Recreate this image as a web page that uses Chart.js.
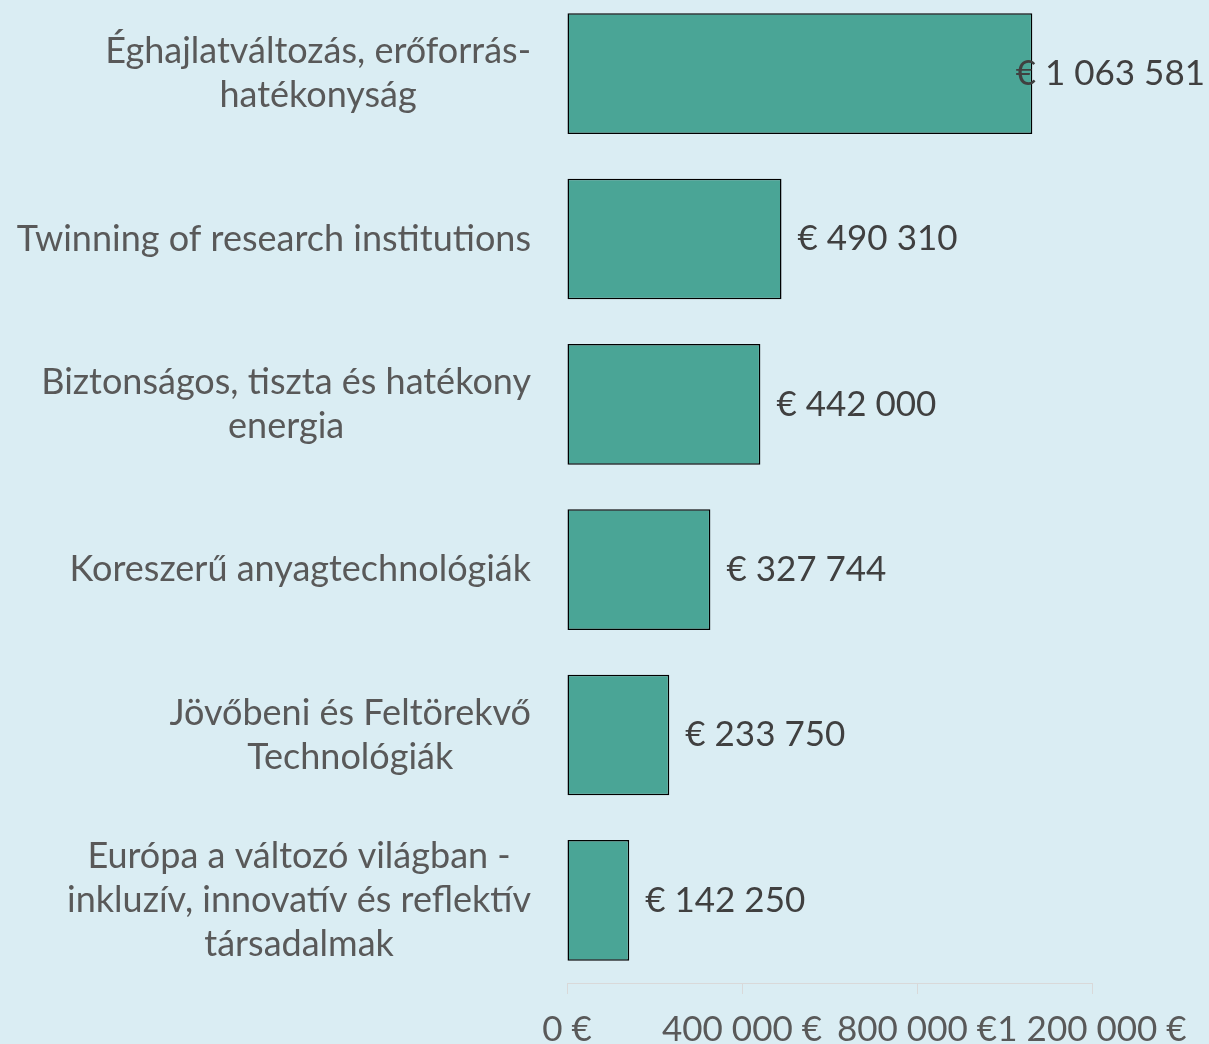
<!DOCTYPE html>
<html lang="hu">
<head>
    <meta charset="UTF-8" />
    <title>Támogatás témák szerint</title>
    <script src="https://cdn.jsdelivr.net/npm/chart.js"></script>
    <style>
        body {
            margin: 0;
            padding: 0;
            background-color: #daedf3;
            overflow: hidden;
        }

        .chart-container {
            position: absolute;
            left: 0;
            top: -9px;
            width: 1209px;
            height: 1053px;
        }
    </style>
</head>
<body>
    <div class="chart-container">
        <canvas id="fundChart"></canvas>
    </div>

    <script>
        // categories (each entry = lines of the label)
        const categories = [
            ['Éghajlatváltozás, erőforrás-', 'hatékonyság'],
            ['Twinning of research institutions'],
            ['Biztonságos, tiszta és hatékony', 'energia'],
            ['Koreszerű anyagtechnológiák'],
            ['Jövőbeni és Feltörekvő', 'Technológiák'],
            ['Európa a változó világban -', 'inkluzív, innovatív és reflektív', 'társadalmak']
        ];
        const amounts = [1063581, 490310, 442000, 327744, 233750, 142250];
        const xTicks = [0, 400000, 800000, 1200000];

        const FONT = 'Lato, "Open Sans", sans-serif';
        const CAT_SIZE = 36;
        const VAL_SIZE = 35;

        function spaced(n) {
            return n.toString().replace(/\B(?=(\d{3})+(?!\d))/g, ' ');
        }

        // draws the wrapped category labels: block right-aligned, lines centred
        const categoryLabels = {
            id: 'categoryLabels',
            afterDraw(chart) {
                const ctx = chart.ctx;
                const yScale = chart.scales.y;
                const rightEdge = yScale.right - 36;
                const lineH = 44;
                ctx.save();
                ctx.font = `${CAT_SIZE}px ${FONT}`;
                ctx.fillStyle = '#595959';
                ctx.textAlign = 'center';
                ctx.textBaseline = 'middle';
                categories.forEach((lines, i) => {
                    const y = yScale.getPixelForTick(i);
                    const blockW = Math.max(...lines.map(l => ctx.measureText(l).width));
                    const cx = rightEdge - blockW / 2;
                    lines.forEach((line, k) => {
                        ctx.fillText(line, cx, y + (k - (lines.length - 1) / 2) * lineH);
                    });
                });
                ctx.restore();
            }
        };

        // value labels to the right of each bar
        const valueLabels = {
            id: 'valueLabels',
            afterDatasetsDraw(chart) {
                const ctx = chart.ctx;
                const meta = chart.getDatasetMeta(0);
                ctx.save();
                ctx.font = `${VAL_SIZE}px ${FONT}`;
                ctx.fillStyle = '#404040';
                ctx.textAlign = 'left';
                ctx.textBaseline = 'middle';
                meta.data.forEach((bar, i) => {
                    const text = '€ ' + spaced(amounts[i]);
                    const w = ctx.measureText(text).width;
                    const x = Math.min(bar.x + 16, chart.width - w - 4);
                    ctx.fillText(text, x, bar.y);
                });
                ctx.restore();
            }
        };

        const ctx = document.getElementById('fundChart').getContext('2d');

        new Chart(ctx, {
            type: 'bar',
            data: {
                labels: categories.map(c => c.join(' ')),
                datasets: [{
                    data: amounts,
                    backgroundColor: '#4aa596',
                    borderColor: '#000000',
                    borderWidth: 1.5,
                    borderSkipped: false,
                    categoryPercentage: 1,
                    barPercentage: 0.73
                }]
            },
            options: {
                indexAxis: 'y',
                responsive: true,
                maintainAspectRatio: false,
                animation: false,
                layout: {
                    padding: { left: 0, right: 117, top: 0, bottom: 0 }
                },
                scales: {
                    x: {
                        min: 0,
                        max: 1200000,
                        afterBuildTicks: (scale) => {
                            scale.ticks = xTicks.map(v => ({ value: v }));
                        },
                        afterFit: (scale) => {
                            scale.height = 61;
                        },
                        grid: {
                            drawOnChartArea: false,
                            drawTicks: true,
                            tickLength: 11,
                            color: '#d9d9d9'
                        },
                        border: {
                            color: '#d9d9d9'
                        },
                        ticks: {
                            padding: 15,
                            maxRotation: 0,
                            autoSkip: false,
                            color: '#595959',
                            font: { family: FONT, size: VAL_SIZE },
                            callback: (v) => spaced(v) + ' €'
                        }
                    },
                    y: {
                        grid: { display: false },
                        border: { display: false },
                        ticks: { display: false },
                        afterFit: (scale) => {
                            scale.width = 567;
                        }
                    }
                },
                plugins: {
                    legend: { display: false },
                    tooltip: { enabled: false }
                }
            },
            plugins: [categoryLabels, valueLabels]
        });
    </script>
</body>
</html>
